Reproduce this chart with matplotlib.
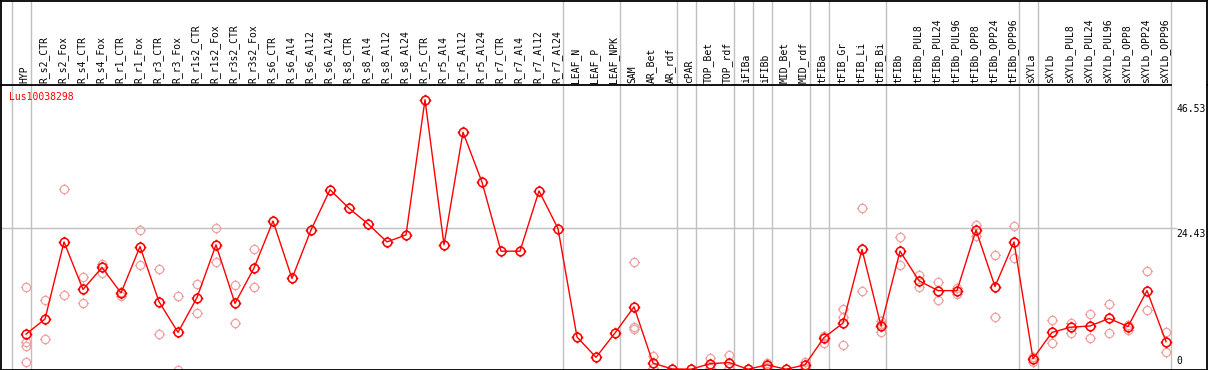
import numpy as np
import matplotlib
matplotlib.use('Agg')
import matplotlib.pyplot as plt
from matplotlib.path import Path

# categories, split by group (gray separators between groups)
groups = [
    ['HYP'],
    ['R_s2_CTR', 'R_s2_Fox', 'R_s4_CTR', 'R_s4_Fox', 'R_r1_CTR', 'R_r1_Fox', 'R_r3_CTR', 'R_r3_Fox',
     'R_r1s2_CTR', 'R_r1s2_Fox', 'R_r3s2_CTR', 'R_r3s2_Fox', 'R_s6_CTR', 'R_s6_Al4', 'R_s6_Al12',
     'R_s6_Al24', 'R_s8_CTR', 'R_s8_Al4', 'R_s8_Al12', 'R_s8_Al24', 'R_r5_CTR', 'R_r5_Al4',
     'R_r5_Al12', 'R_r5_Al24', 'R_r7_CTR', 'R_r7_Al4', 'R_r7_Al12', 'R_r7_Al24'],
    ['LEAF_N', 'LEAF_P', 'LEAF_NPK'],
    ['SAM', 'AR_Bet', 'AR_rdf'],
    ['cPAR'],
    ['TOP_Bet', 'TOP_rdf'],
    ['iFIBa'],
    ['iFIBb'],
    ['MID_Bet', 'MID_rdf'],
    ['tFIBa'],
    ['tFIB_Gr', 'tFIB_Li', 'tFIB_Bi'],
    ['tFIBb', 'tFIBb_PUL8', 'tFIBb_PUL24', 'tFIBb_PUL96', 'tFIBb_OPP8', 'tFIBb_OPP24', 'tFIBb_OPP96'],
    ['sXYLa'],
    ['sXYLb', 'sXYLb_PUL8', 'sXYLb_PUL24', 'sXYLb_PUL96', 'sXYLb_OPP8', 'sXYLb_OPP24', 'sXYLb_OPP96'],
]
labels = [c for g in groups for c in g]

# mean expression per sample
means = [6.1, 8.7, 22.0, 13.8, 17.6, 13.2, 21.2, 11.7, 6.4, 12.4,
         21.5, 11.4, 17.5, 25.6, 15.7, 24.05, 31.0, 27.8, 25.1, 22.0,
         23.2, 46.53, 21.5, 40.9, 32.3, 20.4, 20.4, 30.8, 24.3, 5.6,
         2.1, 6.3, 10.8, 1.1, 0.1, 0.05, 1.0, 1.2, 0.05, 0.8,
         0.05, 0.8, 5.5, 8.0, 20.7, 7.5, 20.4, 15.3, 13.6, 13.6,
         24.05, 14.3, 22.0, 1.85, 6.4, 7.3, 7.5, 8.8, 7.4, 13.6,
         4.8]

# replicate values (index -> values)
rep_idx = [0, 1, 2, 3, 4, 5, 6, 7, 8, 9, 10, 11, 12,
           32, 33, 36, 37, 39, 41, 42, 43, 44, 45,
           46, 47, 48, 49, 50, 51, 52,
           53, 54, 55, 56, 57, 58, 59, 60]
rep_vals = [[14.2, 4.8, 4.0, 1.3], [12.0, 5.2], [31.1, 12.9], [15.9, 11.5], [18.2, 16.7],
            [13.4, 12.6], [24.0, 18.0], [17.3, 6.1], [12.7, 0.0], [14.7, 9.8],
            [24.4, 18.5], [14.6, 8.1], [20.7, 14.2],
            [18.6, 7.4, 6.9], [2.4, 0.2], [1.9, 0.2], [2.5, 0.2], [1.2, 0.4], [1.3, 0.3],
            [5.8, 4.5], [10.5, 9.0, 4.3], [27.9, 13.5], [8.4, 7.9, 6.4],
            [22.8, 18.0], [16.3, 14.2], [15.1, 12.0], [14.1, 13.0], [24.9, 23.0], [19.8, 9.0], [24.7, 19.2],
            [2.2, 1.3], [8.5, 4.5], [8.1, 6.3], [9.5, 5.5], [11.3, 6.3], [7.7, 6.8], [17.0, 10.2], [6.4, 3.1]]

gene = 'Lus10038298'
y_marks = [0, 24.43, 46.53]

W, H = 1209, 370
fig = plt.figure(figsize=(W / 100, H / 100), dpi=100)
top_px, sep_px, bot_px = 0.5, 85, 369.5
ax_h = fig.add_axes([0.5 / W, (H - sep_px) / H, 1206.5 / W, (sep_px - top_px) / H])
ax = fig.add_axes([0.5 / W, (H - bot_px) / H, 1206.5 / W, (bot_px - sep_px) / H])

xlim = ((0.5 - 26) / 19, (1207 - 26) / 19)
for a in (ax, ax_h):
    a.set_xlim(*xlim)
    a.set_xticks([])
    a.set_yticks([])
    for s in a.spines.values():
        s.set_linewidth(1.3)
ax.set_ylim(0, (bot_px - sep_px) / 5.8)
ax_h.set_ylim(0, 1)
ax.spines['top'].set_visible(False)
ax_h.spines['bottom'].set_visible(False)

# separator lines between groups
sizes = [len(g) for g in groups]
bounds = np.concatenate([[-1], np.cumsum(sizes) - 1]) + 0.25
for b in bounds:
    ax.axvline(b, color='#c0c0c0', lw=1, zorder=1)
    ax_h.axvline(b, color='#c0c0c0', lw=1, zorder=1)

# header line under labels stops at last separator
ax.plot([xlim[0], bounds[-1]], [ax.get_ylim()[1]] * 2, color='black', lw=1.3, clip_on=False, zorder=5)

ax.hlines(y_marks[1], xlim[0], 60.6, color='#c0c0c0', lw=1, zorder=1)

mono = 'DejaVu Sans Mono'
for i, lab in enumerate(labels):
    ax_h.text(i - 0.08, 0.02, lab, rotation=90, ha='center', va='bottom',
              fontsize=7, family=mono)

# marker: circle with four small ticks
circ = Path.unit_circle()
t = 1.35
tick = Path([(0, 1), (0, t), (0, -1), (0, -t), (1, 0), (t, 0), (-1, 0), (-t, 0)],
            [Path.MOVETO, Path.LINETO] * 4)
mk = Path.make_compound_path(circ, tick)

x = np.arange(len(labels))
for i, vals in zip(rep_idx, rep_vals):
    ax.plot([i] * len(vals), vals, linestyle='none', marker=mk, ms=8, mfc='none',
            mec='#f0a0a0', mew=0.9, zorder=2)
ax.plot(x, means, color='red', lw=1.0, marker=mk, ms=8.3, mfc='none', mec='red', mew=1.15, zorder=3)

ax.annotate(gene, xy=(0, 1), xycoords='axes fraction', xytext=(9, -7), textcoords='offset pixels',
            ha='left', va='top', color='red', fontsize=7, family=mono)

ax.text(60.55, y_marks[2], '46.53', ha='left', va='top', fontsize=7, family=mono,
        transform=ax.transData + matplotlib.transforms.ScaledTranslation(0, -4 / 100, fig.dpi_scale_trans))
ax.text(60.55, y_marks[1], '24.43', ha='left', va='top', fontsize=7, family=mono,
        transform=ax.transData + matplotlib.transforms.ScaledTranslation(0, -1 / 100, fig.dpi_scale_trans))
ax.text(60.55, y_marks[0], '0', ha='left', va='bottom', fontsize=7, family=mono,
        transform=ax.transData + matplotlib.transforms.ScaledTranslation(0, 4 / 100, fig.dpi_scale_trans))

plt.savefig('out.png', dpi=100)
plt.close()
